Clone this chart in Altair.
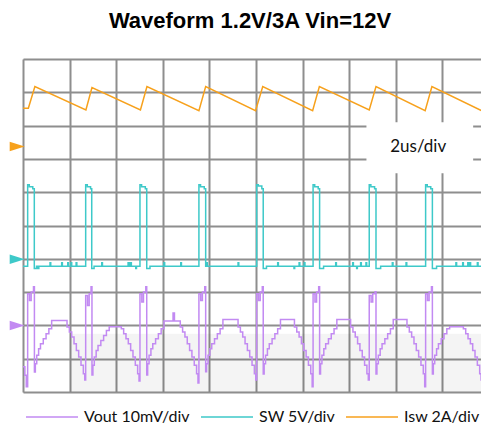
import altair as alt
import pandas as pd

TITLE = "Waveform 1.2V/3A Vin=12V"
SERIES = ["Vout 10mV/div", "SW 5V/div", "Isw 2A/div"]
COLORS = ["#c28af2", "#3ec9c9", "#f7a11c"]
TIMEBASE = "2us/div"

# zero level of each trace (divisions above bottom) and units per division
VOUT_ZERO, VOUT_PER_DIV = 2.0, 10.0     # mV
SW_ZERO, SW_PER_DIV = 3.985, 5.0        # V
ISW_ZERO, ISW_PER_DIV = 7.37, 2.0       # A

X_GRID = [0, 2, 4, 6, 8, 10, 12, 14, 16, 18, 20]   # us
Y_GRID = [0, 1, 2, 3, 4, 5, 6, 7, 8, 9, 10]         # divisions

# inductor / switch current (t us, A)
ISW = [(0.00, 2.3), (0.23, 2.3), (0.51, 3.6), (2.70, 2.2), (2.96, 3.55),
       (5.04, 2.2), (5.32, 3.6), (7.55, 2.15), (7.84, 3.6), (9.98, 2.15),
       (10.29, 3.6), (12.43, 2.15), (12.72, 3.6), (14.86, 2.2), (15.15, 3.6),
       (17.26, 2.15), (17.55, 3.6), (19.69, 2.15), (19.97, 3.5)]

# switch node (t us, V)
SW = [(0.00, -1.05),
      (0.20, 11.2), (0.27, 10.9), (0.42, 10.6), (0.485, -1.4), (0.58, -1.05), (0.62, -1.4), (0.68, -1.05),
      (1.16, -0.5), (1.19, -1.05), (1.66, -0.5), (1.69, -1.05), (1.92, -0.5), (1.95, -1.05),
      (2.06, -0.5), (2.09, -1.05), (2.28, -0.5), (2.31, -1.05),
      (2.69, 11.2), (2.76, 10.9), (2.90, 10.6), (2.95, -1.4), (3.05, -1.05), (3.38, -0.5), (3.41, -1.05),
      (4.51, -0.5), (4.56, -1.05), (4.62, -0.5), (4.65, -1.05), (4.84, -1.4), (4.87, -1.05),
      (5.02, 11.2), (5.09, 10.9), (5.25, 10.6), (5.31, -1.4), (5.45, -1.05), (6.05, -0.5), (6.08, -1.05),
      (6.77, -0.5), (6.80, -1.05),
      (7.55, 11.2), (7.62, 10.9), (7.78, 10.6), (7.84, -1.05), (7.88, -0.5), (7.91, -1.05),
      (9.23, -0.5), (9.26, -1.05),
      (10.03, 11.2), (10.10, 11.0), (10.25, 10.6), (10.31, -1.4), (10.45, -1.05), (10.93, -0.5), (10.96, -1.05),
      (11.63, -1.4), (11.66, -1.05), (11.85, -0.5), (11.88, -1.05), (12.07, -0.5), (12.10, -1.05),
      (12.45, 11.2), (12.52, 10.9), (12.67, 10.6), (12.73, -1.4), (12.90, -1.05), (13.42, -0.5), (13.45, -1.05),
      (14.15, -0.5), (14.18, -1.05), (14.32, -1.4), (14.35, -1.05), (14.49, -0.5), (14.52, -1.05),
      (14.72, -0.5), (14.75, -1.05),
      (14.86, 11.2), (14.93, 10.9), (15.09, 10.6), (15.15, -1.4), (15.35, -1.05), (15.85, -0.5), (15.88, -1.05),
      (16.44, -0.5), (16.47, -1.05),
      (17.28, 11.2), (17.35, 10.9), (17.50, 10.6), (17.57, -1.4), (17.75, -1.05), (18.58, -0.5), (18.61, -1.05),
      (18.87, -0.5), (18.90, -1.05), (19.09, -0.5), (19.12, -1.05), (19.18, -0.5), (19.21, -1.05),
      (19.50, -0.5), (19.53, -1.05),
      (19.70, 11.2), (19.77, 10.9), (19.93, 10.6), (19.97, -1.05), (20.00, -1.05)]

# output ripple (t us, mV)
VOUT = [(0.00, -12.4), (0.08, -15.0), (0.14, -18.4),
        (0.20, 9.5), (0.28, 7.5), (0.35, 10.0), (0.45, 11.6),
        (0.49, -14.0), (0.53, -11.5), (0.59, -9.0), (0.67, -7.0), (0.75, -5.5), (0.87, -4.0), (0.99, -2.5), (1.11, -1.0), (1.23, 1.5),
        (1.89, -0.5), (1.99, -2.0), (2.09, -3.5), (2.19, -5.5), (2.29, -7.5), (2.39, -9.5), (2.49, -12.0), (2.59, -14.5), (2.65, -16.4),
        (2.69, 9.0), (2.77, 6.0), (2.84, 9.5), (2.92, 11.6),
        (2.96, -14.9), (3.00, -12.0), (3.06, -9.5), (3.14, -7.5), (3.22, -6.0), (3.34, -4.5), (3.46, -3.0), (3.58, -1.5), (3.70, -0.4),
        (4.22, -1.0), (4.32, -2.5), (4.42, -4.0), (4.52, -5.5), (4.62, -7.5), (4.72, -9.5), (4.82, -12.0), (4.92, -14.5), (4.98, -16.7),
        (5.02, 9.5), (5.10, 7.0), (5.17, 10.0), (5.27, 11.6),
        (5.31, -14.9), (5.35, -11.5), (5.41, -9.0), (5.49, -7.0), (5.57, -5.5), (5.69, -4.0), (5.81, -2.5), (5.93, -1.0), (6.05, 1.3), (6.44, 3.7), (6.50, 1.3),
        (6.75, -0.5), (6.85, -2.0), (6.95, -3.5), (7.05, -5.5), (7.15, -7.5), (7.25, -9.5), (7.35, -12.0), (7.45, -14.5), (7.51, -17.3),
        (7.55, 9.5), (7.63, 7.5), (7.70, 10.0), (7.80, 11.6),
        (7.84, -13.9), (7.88, -11.5), (7.94, -9.0), (8.02, -7.0), (8.10, -5.5), (8.22, -4.0), (8.34, -2.5), (8.46, -1.0), (8.58, 1.8),
        (9.23, -0.5), (9.33, -2.0), (9.43, -3.5), (9.53, -5.5), (9.63, -7.5), (9.73, -9.5), (9.83, -12.0), (9.93, -14.5), (9.99, -16.4),
        (10.03, 9.5), (10.11, 7.5), (10.18, 10.0), (10.27, 11.6),
        (10.31, -14.6), (10.35, -11.5), (10.41, -9.0), (10.49, -7.0), (10.57, -5.5), (10.69, -4.0), (10.81, -2.5), (10.93, -1.0), (11.05, 1.8),
        (11.65, -0.5), (11.75, -2.0), (11.85, -3.5), (11.95, -5.5), (12.05, -7.5), (12.15, -9.5), (12.25, -12.0), (12.35, -14.5), (12.41, -18.4),
        (12.45, 9.5), (12.53, 7.0), (12.60, 10.0), (12.69, 11.6),
        (12.73, -14.6), (12.77, -11.5), (12.83, -9.0), (12.91, -7.0), (12.99, -5.5), (13.11, -4.0), (13.23, -2.5), (13.35, -1.0), (13.47, 1.8),
        (14.06, -0.5), (14.16, -2.0), (14.26, -3.5), (14.36, -5.5), (14.46, -7.5), (14.56, -9.5), (14.66, -12.0), (14.76, -14.5), (14.82, -16.4),
        (14.86, 9.0), (14.94, 7.0), (15.01, 9.5), (15.11, 10.1),
        (15.15, -14.6), (15.19, -11.5), (15.25, -9.0), (15.33, -7.0), (15.41, -5.5), (15.53, -4.0), (15.65, -2.5), (15.77, -1.0), (15.89, 1.8),
        (16.48, -0.5), (16.58, -2.0), (16.68, -3.5), (16.78, -5.5), (16.88, -7.5), (16.98, -9.5), (17.08, -12.0), (17.18, -14.5), (17.24, -18.4),
        (17.28, 9.5), (17.36, 7.5), (17.43, 10.0), (17.53, 11.6),
        (17.57, -14.6), (17.61, -11.5), (17.67, -9.0), (17.75, -7.0), (17.83, -5.5), (17.95, -4.0), (18.07, -2.5), (18.19, -1.0), (18.31, -0.4),
        (18.90, -1.0), (19.00, -2.5), (19.10, -4.0), (19.20, -5.5), (19.30, -7.5), (19.40, -9.5), (19.50, -12.0), (19.60, -14.5), (19.66, -16.4),
        (19.70, 9.0), (19.78, 7.0), (19.85, 9.5), (19.95, 10.6), (20.00, 10.6)]

# channel ground markers (t us, division)
MARKER_T = [-0.25, -0.25, -0.25]
MARKER_DIV = [ISW_ZERO, SW_ZERO, VOUT_ZERO]
MARKER_COLOR = [COLORS[2], COLORS[1], COLORS[0]]

# timebase label box (us, div)
BOX_T = [14.74, 19.32]
BOX_DIV = [6.57, 8.10]
LABEL_T, LABEL_DIV = 16.96, 7.37

# faint shadow in the lower part of the screen
SHADE_T = [2.0, 20.0]
SHADE_DIV = [0.0, 1.75]


def trace(points, name, zero, per_div):
    return pd.DataFrame({
        "t": [p[0] for p in points],
        "div": [zero + p[1] / per_div for p in points],
        "series": name,
    })


vout_df = trace(VOUT, SERIES[0], VOUT_ZERO, VOUT_PER_DIV)
sw_df = trace(SW, SERIES[1], SW_ZERO, SW_PER_DIV)
isw_df = trace(ISW, SERIES[2], ISW_ZERO, ISW_PER_DIV)

xs = alt.Scale(domain=[0, 20], nice=False, zero=False)
ys = alt.Scale(domain=[0, 10], nice=False, zero=False)
grid_axis_x = alt.Axis(values=X_GRID, labels=False, ticks=False, domain=False, title=None,
                       grid=True, gridColor="#8e8e8e", gridWidth=2, gridOpacity=1)
grid_axis_y = alt.Axis(values=Y_GRID, labels=False, ticks=False, domain=False, title=None,
                       grid=True, gridColor="#8e8e8e", gridWidth=2, gridOpacity=1)
X = alt.X("t:Q", scale=xs, axis=grid_axis_x)
Y = alt.Y("div:Q", scale=ys, axis=grid_axis_y)

color = alt.Color(
    "series:N",
    scale=alt.Scale(domain=SERIES, range=COLORS),
    legend=alt.Legend(orient="none", legendX=2, legendY=331, direction="horizontal", columns=3,
                      title=None, symbolType="stroke", symbolSize=2704, symbolStrokeWidth=1.5,
                      labelFont="Lato", labelFontSize=16, labelColor="#111111", labelOffset=5,
                      columnPadding=8, padding=0),
)

shade = alt.Chart(pd.DataFrame({"t0": [SHADE_T[0]], "t1": [SHADE_T[1]],
                                "d0": [SHADE_DIV[0]], "d1": [SHADE_DIV[1]]})).mark_rect(
    color="#000000", opacity=0.045).encode(
    x=alt.X("t0:Q", scale=xs, axis=grid_axis_x), x2="t1:Q",
    y=alt.Y("d0:Q", scale=ys, axis=grid_axis_y), y2="d1:Q")

vout = alt.Chart(vout_df).mark_line(interpolate="step-after", strokeWidth=1.5).encode(
    x=X, y=Y, color=color)
sw = alt.Chart(sw_df).mark_line(interpolate="step-after", strokeWidth=1.5).encode(
    x=X, y=Y, color=color)
isw = alt.Chart(isw_df).mark_line(strokeWidth=1.5).encode(x=X, y=Y, color=color)

box = alt.Chart(pd.DataFrame({"t0": [BOX_T[0]], "t1": [BOX_T[1]],
                              "d0": [BOX_DIV[0]], "d1": [BOX_DIV[1]]})).mark_rect(
    color="white", opacity=1).encode(
    x=alt.X("t0:Q", scale=xs, axis=grid_axis_x), x2="t1:Q",
    y=alt.Y("d0:Q", scale=ys, axis=grid_axis_y), y2="d1:Q")

label = alt.Chart(pd.DataFrame({"t": [LABEL_T], "div": [LABEL_DIV], "txt": [TIMEBASE]})).mark_text(
    font="Lato", fontSize=17, color="#111111", align="center", baseline="middle").encode(
    x=X, y=Y, text="txt:N")

markers = alt.Chart(pd.DataFrame({"t": MARKER_T, "div": MARKER_DIV, "c": MARKER_COLOR})).mark_point(
    shape="M-1,-0.63L1,0L-1,0.63Z", size=225, filled=True, opacity=1, strokeWidth=0).encode(
    x=X, y=Y, fill=alt.Fill("c:N", scale=None))

chart = alt.layer(shade, vout, sw, isw, box, label, markers).properties(
    width=466, height=333,
    autosize=alt.AutoSizeParams(type="none"),
    padding={"left": 15, "top": 51, "right": -8, "bottom": 33},
    title=alt.TitleParams(TITLE, font="Liberation Sans", fontSize=22, fontWeight="bold",
                          color="#000000", anchor="middle", frame="group",
                          baseline="alphabetic", offset=9, dx=-6),
).configure_view(stroke="#808080", strokeWidth=3).configure(background="white")

chart.save("out.html", embed_options={"renderer": "svg", "actions": False})
